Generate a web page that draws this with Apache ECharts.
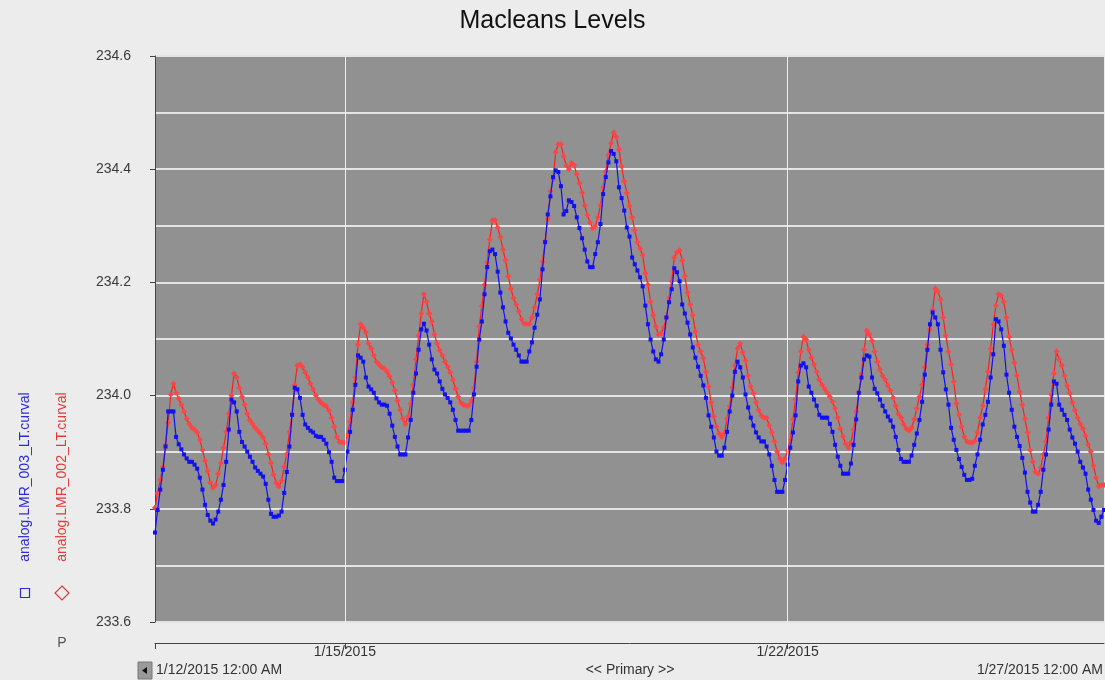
<!DOCTYPE html>
<html>
<head>
<meta charset="utf-8">
<script src="https://cdn.jsdelivr.net/npm/echarts@6/dist/echarts.min.js"></script>
<style>
html,body{margin:0;padding:0;background:#ececec;}
#chart{width:1105px;height:680px;}
</style>
</head>
<body>
<div id="chart"></div>
<script>
// Hourly samples from 1/12/2015 12:00 AM to 1/27/2015 12:00 AM (hour index = x value)
const chartTitle = 'Macleans Levels';
const startLabel = '1/12/2015 12:00 AM';
const endLabel = '1/27/2015 12:00 AM';
const centerLabel = '<< Primary >>';
const seriesNames = ['analog.LMR_003_LT.curval', 'analog.LMR_002_LT.curval'];
const xTickHours = [72, 240];
const xTickLabels = ['1/15/2015', '1/22/2015'];
const yMin = 233.6, yMax = 234.6, yStep = 0.2, yGridStep = 0.1;

const lmr003 = [
233.758,233.798,233.834,233.869,233.910,233.972,233.972,233.972,233.927,233.914,
233.905,233.896,233.889,233.883,233.883,233.878,233.871,233.855,233.834,233.807,
233.789,233.779,233.774,233.781,233.795,233.816,233.842,233.883,233.940,233.993,
233.988,233.972,233.936,233.918,233.910,233.901,233.892,233.883,233.873,233.867,
233.862,233.857,233.844,233.816,233.791,233.786,233.786,233.788,233.795,233.828,
233.865,233.910,233.966,234.014,234.011,233.996,233.966,233.949,233.943,233.938,
233.935,233.929,233.927,233.927,233.922,233.915,233.900,233.883,233.855,233.849,
233.849,233.849,233.869,233.901,233.936,233.975,234.019,234.071,234.067,234.060,
234.032,234.016,234.011,234.005,233.995,233.988,233.984,233.984,233.982,233.968,
233.947,233.927,233.910,233.896,233.896,233.896,233.926,233.957,234.005,234.039,
234.081,234.117,234.127,234.115,234.090,234.064,234.046,234.039,234.025,234.012,
234.002,233.996,233.988,233.975,233.957,233.938,233.938,233.938,233.938,233.938,
233.957,234.002,234.051,234.099,234.131,234.179,234.227,234.255,234.258,234.250,
234.219,234.182,234.156,234.131,234.111,234.101,234.090,234.081,234.071,234.060,
234.060,234.060,234.078,234.094,234.120,234.143,234.170,234.223,234.271,234.320,
234.352,234.386,234.398,234.395,234.370,234.320,234.326,234.345,234.342,234.335,
234.315,234.296,234.278,234.258,234.237,234.227,234.227,234.250,234.271,234.303,
234.356,234.386,234.412,234.432,234.427,234.414,234.368,234.349,234.327,234.297,
234.281,234.244,234.232,234.221,234.209,234.193,234.159,234.126,234.099,234.078,
234.064,234.060,234.073,234.099,234.138,234.165,234.188,234.225,234.218,234.202,
234.161,234.145,234.129,234.108,234.085,234.067,234.051,234.035,234.018,233.996,
233.965,233.945,233.926,233.901,233.894,233.894,233.908,233.936,233.972,234.000,
234.042,234.060,234.050,234.032,234.002,233.979,233.961,233.947,233.935,233.926,
233.919,233.919,233.910,233.896,233.876,233.851,233.830,233.830,233.830,233.851,
233.878,233.908,233.935,233.965,234.025,234.053,234.057,234.050,234.016,234.005,
233.993,233.982,233.966,233.961,233.961,233.961,233.950,233.936,233.913,233.892,
233.876,233.862,233.862,233.862,233.880,233.913,233.958,234.005,234.032,234.064,
234.071,234.069,234.032,234.012,234.004,233.993,233.982,233.972,233.963,233.956,
233.945,233.927,233.904,233.888,233.883,233.883,233.883,233.894,233.913,233.933,
233.957,233.989,234.037,234.081,234.126,234.147,234.138,234.126,234.081,234.041,
234.011,233.984,233.943,233.922,233.904,233.888,233.874,233.860,233.851,233.851,
233.853,233.876,233.896,233.922,233.949,233.966,233.989,234.032,234.073,234.135,
234.131,234.117,234.088,234.037,234.005,233.975,233.945,233.927,233.911,233.890,
233.864,233.830,233.811,233.795,233.795,233.807,233.830,233.869,233.896,233.940,
233.984,234.025,234.021,233.984,233.975,233.966,233.957,233.940,233.926,233.915,
233.901,233.883,233.873,233.862,233.834,233.816,233.798,233.779,233.775,233.786,
233.798
];

const lmr002 = [
233.802,233.827,233.851,233.874,233.913,233.952,234.002,234.021,234.005,233.995,
233.984,233.972,233.959,233.950,233.943,233.940,233.935,233.922,233.904,233.885,
233.867,233.846,233.837,233.842,233.862,233.881,233.908,233.936,233.968,234.000,
234.039,234.032,234.014,233.998,233.984,233.968,233.957,233.950,233.943,233.938,
233.933,233.926,233.915,233.897,233.881,233.860,233.846,233.839,233.850,233.874,
233.897,233.936,233.968,234.019,234.053,234.055,234.050,234.041,234.032,234.021,
234.011,234.000,233.993,233.988,233.984,233.981,233.974,233.961,233.945,233.927,
233.918,233.917,233.917,233.931,233.954,233.988,234.032,234.090,234.126,234.120,
234.112,234.092,234.083,234.071,234.060,234.055,234.050,234.048,234.042,234.034,
234.023,234.009,233.991,233.975,233.959,233.950,233.963,233.986,234.019,234.064,
234.106,234.145,234.179,234.166,234.145,234.131,234.108,234.092,234.080,234.071,
234.060,234.051,234.041,234.028,234.012,233.998,233.988,233.984,233.982,233.982,
233.991,234.014,234.060,234.122,234.158,234.196,234.235,234.276,234.310,234.310,
234.297,234.280,234.258,234.239,234.211,234.189,234.172,234.161,234.149,234.135,
234.127,234.127,234.127,234.138,234.156,234.179,234.205,234.237,234.273,234.312,
234.361,234.382,234.430,234.444,234.444,234.423,234.407,234.400,234.411,234.407,
234.391,234.375,234.359,234.336,234.319,234.306,234.296,234.299,234.315,234.336,
234.368,234.396,234.425,234.446,234.465,234.457,234.435,234.405,234.379,234.358,
234.335,234.315,234.292,234.271,234.260,234.248,234.216,234.196,234.166,234.142,
234.122,234.108,234.110,234.120,234.138,234.173,234.202,234.244,234.253,234.257,
234.239,234.211,234.182,234.161,234.142,234.113,234.090,234.078,234.066,234.042,
234.016,233.988,233.963,233.945,233.933,233.927,233.933,233.959,233.981,234.014,
234.053,234.083,234.092,234.076,234.062,234.035,234.016,234.004,233.988,233.974,
233.965,233.961,233.961,233.947,233.935,233.919,233.901,233.889,233.882,233.889,
233.903,233.922,233.958,233.993,234.041,234.078,234.104,234.099,234.081,234.067,
234.055,234.042,234.028,234.019,234.012,234.005,233.998,233.989,233.977,233.961,
233.942,233.928,233.915,233.908,233.917,233.940,233.972,234.005,234.039,234.081,
234.115,234.108,234.097,234.078,234.060,234.046,234.035,234.028,234.018,234.009,
233.996,233.982,233.968,233.961,233.950,233.942,233.938,233.943,233.958,233.977,
233.998,234.019,234.050,234.090,234.117,234.152,234.189,234.184,234.170,234.138,
234.106,234.078,234.055,234.025,233.986,233.966,233.945,233.927,233.919,233.917,
233.917,233.920,233.935,233.961,233.982,234.012,234.042,234.083,234.126,234.159,
234.179,234.177,234.166,234.138,234.104,234.081,234.058,234.035,234.007,233.984,
233.959,233.935,233.904,233.883,233.865,233.862,233.872,233.896,233.919,233.961,
234.002,234.039,234.078,234.064,234.053,234.035,234.018,234.004,233.988,233.974,
233.961,233.950,233.942,233.929,233.913,233.901,233.876,233.855,233.840,233.842,
233.842
];

const FONT = '"Liberation Sans", Arial, sans-serif';
const totalHours = lmr003.length - 1;
const toPairs = arr => arr.map((v, i) => [i, v]);

const chart = echarts.init(document.getElementById('chart'), null, {renderer: 'canvas'});

const option = {
  animation: false,
  backgroundColor: '#ececec',
  textStyle: {fontFamily: FONT},
  title: {
    text: chartTitle,
    left: 'center',
    top: 4,
    textStyle: {fontFamily: FONT, fontSize: 25, fontWeight: 'normal', color: '#111'}
  },
  grid: {
    left: 155, right: 1, top: 56, bottom: 58,
    show: true, backgroundColor: '#919191', borderWidth: 0
  },
  xAxis: [{
    type: 'value', min: 0, max: totalHours, offset: 21,
    axisLine: {show: true, lineStyle: {color: '#444', width: 1}},
    axisTick: {show: true, length: 6, lineStyle: {color: '#444'}, customValues: [0].concat(xTickHours)},
    axisLabel: {
      show: true, customValues: xTickHours, margin: 2, fontSize: 14, color: '#333', fontFamily: FONT,
      formatter: v => { const k = xTickHours.indexOf(Math.round(v)); return k >= 0 ? xTickLabels[k] : ''; }
    },
    splitLine: {show: false}
  }],
  yAxis: [{
    type: 'value', min: yMin, max: yMax, interval: yStep, offset: 20,
    axisLine: {show: true, lineStyle: {color: '#444', width: 1}},
    axisTick: {show: true, length: 5, lineStyle: {color: '#444'}},
    axisLabel: {margin: 4, fontSize: 14, color: '#3a3a3a', fontFamily: FONT, formatter: v => v.toFixed(1)},
    splitLine: {show: false}
  }, {
    type: 'value', min: yMin, max: yMax, interval: yGridStep, position: 'left',
    axisLine: {show: false}, axisTick: {show: false}, axisLabel: {show: false},
    splitLine: {show: true, lineStyle: {color: '#e4e4e4', width: 2}}
  }],
  series: [{
    type: 'line', data: [], z: 1, silent: true,
    markLine: {
      silent: true, symbol: ['none', 'none'], label: {show: false},
      lineStyle: {color: '#eeeeee', width: 1, type: 'solid'},
      data: xTickHours.map(h => ({xAxis: h}))
    }
  }, {
    name: seriesNames[1], type: 'line', data: toPairs(lmr002), z: 3,
    showAllSymbol: true, symbol: 'diamond', symbolSize: 6,
    lineStyle: {color: '#ff1e1e', width: 1.2},
    itemStyle: {color: '#ff4646'}
  }, {
    name: seriesNames[0], type: 'line', data: toPairs(lmr003), z: 4,
    showAllSymbol: true, symbol: 'rect', symbolSize: 4,
    lineStyle: {color: '#1010f0', width: 1.2},
    itemStyle: {color: '#1010f0'}
  }],
  graphic: [
    {type: 'text', x: 25, y: 477, rotation: Math.PI / 2,
     style: {text: seriesNames[0], fill: '#2b2bd6', font: '14px ' + FONT, textAlign: 'center', textVerticalAlign: 'middle'}},
    {type: 'text', x: 62, y: 477, rotation: Math.PI / 2,
     style: {text: seriesNames[1], fill: '#e23a3a', font: '14px ' + FONT, textAlign: 'center', textVerticalAlign: 'middle'}},
    {type: 'rect', shape: {x: 20.5, y: 588.5, width: 9, height: 9},
     style: {fill: 'none', stroke: '#2b2bd6', lineWidth: 1.2}},
    {type: 'polygon', shape: {points: [[62, 586], [69, 593], [62, 600], [55, 593]]},
     style: {fill: 'none', stroke: '#e23a3a', lineWidth: 1.2}},
    {type: 'text', x: 62, y: 643,
     style: {text: 'P', fill: '#555', font: '14px ' + FONT, textAlign: 'center', textVerticalAlign: 'middle'}},
    {type: 'rect', shape: {x: 138, y: 662, width: 14, height: 17},
     style: {fill: '#9a9a9a', stroke: '#777', lineWidth: 1}},
    {type: 'polygon', shape: {points: [[142, 670.5], [147, 667], [147, 674]]},
     style: {fill: '#111'}},
    {type: 'text', x: 156, y: 670,
     style: {text: startLabel, fill: '#333', font: '14px ' + FONT, textAlign: 'left', textVerticalAlign: 'middle'}},
    {type: 'text', x: 630, y: 670,
     style: {text: centerLabel, fill: '#333', font: '14px ' + FONT, textAlign: 'center', textVerticalAlign: 'middle'}},
    {type: 'text', x: 1103, y: 670,
     style: {text: endLabel, fill: '#333', font: '14px ' + FONT, textAlign: 'right', textVerticalAlign: 'middle'}}
  ]
};
chart.setOption(option);
</script>
</body>
</html>
